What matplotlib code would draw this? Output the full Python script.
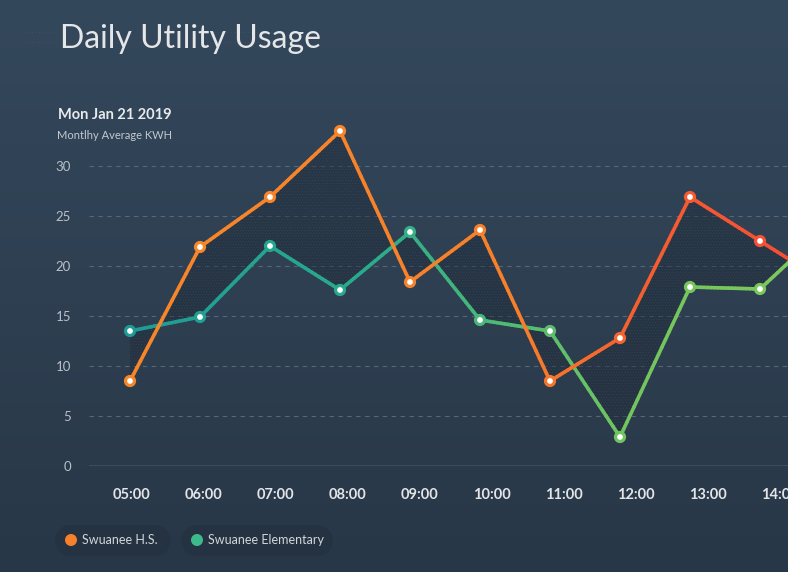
import numpy as np
import matplotlib
matplotlib.use("Agg")
import matplotlib.pyplot as plt
from matplotlib.collections import LineCollection
from matplotlib.colors import LinearSegmentedColormap, Normalize
from matplotlib.patches import Circle

# data (last hour is off the right edge)
hours = ["05:00", "06:00", "07:00", "08:00", "09:00", "10:00",
         "11:00", "12:00", "13:00", "14:00", "15:00"]
hs_kwh = [8.5, 21.9, 26.9, 33.5, 18.4, 23.6, 8.5, 12.8, 26.9, 22.5, 18.1]
elem_kwh = [13.5, 14.9, 22.0, 17.6, 23.4, 14.6, 13.5, 2.9, 17.9, 17.7, 24.2]
series_names = ["Swuanee H.S.", "Swuanee Elementary"]
yticks = [0, 5, 10, 15, 20, 25, 30]

W, H = 788, 572
fig = plt.figure(figsize=(W / 100, H / 100), dpi=100)

# background: whole-figure axes in pixel units
bg = fig.add_axes([0, 0, 1, 1])
bg_cmap = LinearSegmentedColormap.from_list("bg", ["#34485c", "#283747"])
grad = np.linspace(0, 1, 256).reshape(-1, 1)
bg.imshow(grad, aspect="auto", cmap=bg_cmap, extent=[0, W, H, 0])
bg.set_xlim(0, W)
bg.set_ylim(H, 0)
bg.axis("off")

# faint dotted decoration behind the title
for yy in (32, 42):
    for x0, x1 in ((25, 55), (214, 290)):
        bg.plot([x0, x1], [yy, yy], color="#425569", lw=0.6,
                linestyle=(0, (1, 3)))

bg.text(60, 48, "Daily Utility Usage", fontsize=23, family="Lato",
        weight="normal", color="#e4e6e8", va="baseline")
bg.text(58, 119, "Mon Jan 21 2019", fontsize=10.5, family="Lato",
        weight="bold", color="#e8eaec", va="baseline")
bg.text(57, 139, "Montlhy Average KWH", fontsize=8, family="Lato",
        color="#c3c9cf", va="baseline")

# legend pills
hs_cmap = LinearSegmentedColormap.from_list(
    "hs", [(0, "#f7862a"), (0.55, "#f7802a"), (0.72, "#f5602f"), (1, "#f44a36")])
el_cmap = LinearSegmentedColormap.from_list(
    "el", [(0, "#1e9b96"), (0.35, "#2aab8c"), (0.55, "#52bb73"), (0.72, "#74c55e"), (1, "#7dc85a")])
legend_dots = ["#f7802a", "#3dba8c"]
pills = [(55, 171), (181, 333)]
for name, dot, (x0, x1) in zip(series_names, legend_dots, pills):
    bg.plot([x0 + 15.5, x1 - 15.5], [540, 540], color="#243241",
            lw=31 * 0.72, solid_capstyle="round")
    bg.add_patch(Circle((x0 + 16, 540), 6, fc=dot, ec="none", zorder=3))
    bg.text(x0 + 27, 540, name, fontsize=9, family="Lato", color="#d2d6da",
            va="center", ha="left", zorder=3)

# main chart
ax = fig.add_axes([89 / W, 106 / H, (W - 89) / W, 350 / H])
ax.set_facecolor("none")
x = np.arange(len(hours))
for s in ax.spines.values():
    s.set_visible(False)

for t in yticks[1:]:
    ax.axhline(t, color="#56677a", lw=0.8, dashes=(4, 4), zorder=1)
ax.axhline(0, color="#8e9aa6", lw=1.0, zorder=1)

ax.set_yticks(yticks)
ax.set_yticklabels([str(t) for t in yticks], fontsize=9.5, family="Lato",
                   color="#b9c0c8")
ax.set_xticks(x * 1.0286 + 0.024)
ax.set_xticklabels(hours, fontsize=10.5, family="Lato", weight="bold",
                   color="#e2e5e8")
ax.tick_params(axis="y", length=0, pad=13)
ax.tick_params(axis="x", length=0, pad=16)

# shaded band between the two series
ax.fill_between(x, hs_kwh, elem_kwh, facecolor="#18222d", alpha=0.35,
                zorder=2, linewidth=0)
plt.rcParams["hatch.linewidth"] = 0.5
ax.fill_between(x, hs_kwh, elem_kwh, facecolor="none", hatch="......",
                edgecolor="#3b4b5c", linewidth=0, zorder=2, alpha=0.5)

norm = Normalize(0, 10)


def gradient_line(xv, yv, cmap):
    xv = np.asarray(xv, float)
    yv = np.asarray(yv, float)
    segs, cols = [], []
    for i in range(len(xv) - 1):
        ts = np.linspace(0, 1, 21)
        px = xv[i] + (xv[i + 1] - xv[i]) * ts
        py = yv[i] + (yv[i + 1] - yv[i]) * ts
        for j in range(len(ts) - 1):
            segs.append([(px[j], py[j]), (px[j + 1], py[j + 1])])
            cols.append(cmap(norm((px[j] + px[j + 1]) / 2)))
    lc = LineCollection(segs, colors=cols, linewidth=2.6, capstyle="round",
                        joinstyle="round", zorder=3)
    ax.add_collection(lc)
    ax.scatter(xv, yv, s=42, facecolor="white", edgecolors=cmap(norm(xv)),
               linewidths=2.3, zorder=4)


gradient_line(x, elem_kwh, el_cmap)
gradient_line(x, hs_kwh, hs_cmap)

# limits last, so the ticks do not widen them
ax.set_xlim(-41 / 70, 658 / 70)
ax.set_ylim(0, 35)

fig.savefig("out.png", dpi=100)
